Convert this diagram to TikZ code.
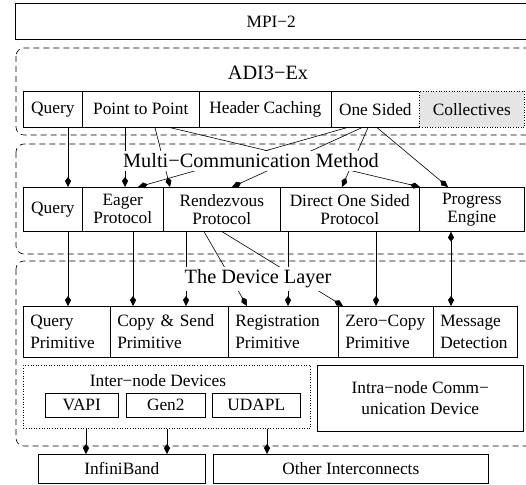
\documentclass[tikz,border=0pt]{standalone}
\usepackage{fontspec}
\setmainfont{Liberation Serif}
\usetikzlibrary{arrows.meta}

\tikzset{
  cell/.style={draw, inner sep=0pt, anchor=north west, align=center,
    font=\fontsize{17.3}{18}\selectfont},
  devcell/.style={draw, inner xsep=7pt, inner ysep=0pt, anchor=north west,
    align=left, text width=#1, minimum height=51,
    font=\fontsize{17.3}{21.5}\selectfont},
  region/.style={draw, dash pattern=on 6pt off 4pt, rounded corners=8pt},
  title/.style={fill=white, inner sep=3pt, font=\fontsize{20.3}{22}\selectfont},
  tip/.style={-{Kite[length=10pt,width=6pt,inset=4pt]}},
  bitip/.style={{Kite[length=10pt,width=6pt,inset=4pt]}-{Kite[length=10pt,width=6pt,inset=4pt]}},
}

\begin{document}
\begin{tikzpicture}[x=1pt, y=-1pt, line width=0.6pt]
\useasboundingbox (0,0) rectangle (526,484);

% ===== Layers =====
\draw[region] (16,48) rectangle (540,135);
\draw[region] (16,144) rectangle (540,254);
\draw[region] (16,261) rectangle (540,446);

% ===== MPI-2 =====
\node[cell, minimum width=512, minimum height=36] (mpi) at (15,3) {MPI−2};

% ===== ADI3-Ex row =====
\node[cell, minimum width=59, minimum height=36] (aq) at (23,91) {Query};
\node[cell, minimum width=117, minimum height=36] (aptp) at (82,91) {Point to Point};
\node[cell, minimum width=132, minimum height=36] (ahc) at (199,91) {Header Caching};
\node[cell, minimum width=88, minimum height=36] (aos) at (331,91) {One Sided};
\node[cell, dotted, fill=gray!20, minimum width=105, minimum height=36] (acoll) at (419,91) {Collectives};

% ===== Multi-Communication Method row =====
\node[cell, minimum width=59, minimum height=44] (mq) at (23,187) {Query};
\node[cell, minimum width=81, minimum height=44] (meager) at (82,187) {Eager\\Protocol};
\node[cell, minimum width=117, minimum height=44] (mrdv) at (163,187) {Rendezvous\\Protocol};
\node[cell, minimum width=139, minimum height=44] (mdos) at (280,187) {Direct One Sided\\Protocol};
\node[cell, minimum width=105, minimum height=44] (mpe) at (419,187) {Progress\\Engine};

% ===== Device layer row =====
\node[devcell=73] (dq) at (23,306) {Query\\Primitive};
\node[devcell=104] (dcs) at (110,306) {Copy \& Send\\Primitive};
\node[devcell=96] (dreg) at (228,306) {Registration\\Primitive};
\node[devcell=81] (dzc) at (338,306) {Zero−Copy\\Primitive};
\node[devcell=70] (dmd) at (433,306) {Message\\Detection};

% ===== Devices =====
\node[draw, dotted, anchor=north west, inner sep=0pt, minimum width=287, minimum height=63] (inter) at (23,365) {};
\node[font=\fontsize{17.3}{18}\selectfont] (interlbl) at (158,381) {Inter−node Devices};
\node[cell, minimum width=73, minimum height=24] (vapi) at (45,393) {VAPI};
\node[cell, minimum width=79, minimum height=24] (gen) at (126,393) {Gen2};
\node[cell, minimum width=88, minimum height=24] (udapl) at (212,393) {UDAPL};
\node[cell, minimum width=206, minimum height=66, font=\fontsize{17.3}{21}\selectfont] (intra) at (317,365) {Intra−node Comm−\\unication Device};

% ===== Interconnects =====
\node[cell, minimum width=167, minimum height=29] (ib) at (38,454) {InfiniBand};
\node[cell, minimum width=275, minimum height=29] (other) at (213,454) {Other Interconnects};

% ===== ADI3-Ex -> Multi-Communication =====
\draw[tip] ([xshift=45]aq.south west) -- ([xshift=45]mq.north west);
\draw[tip] ([xshift=43]aptp.south west) -- ([xshift=43]meager.north west);
\draw[tip] ([xshift=73]aptp.south west) -- ([xshift=7]mrdv.north west);
\draw[tip] ([xshift=88]aptp.south west) -- ([xshift=1]mpe.north west);
\draw[tip] ([xshift=16]aos.south west) -- ([xshift=56]meager.north west);
\draw[tip] ([xshift=31]aos.south west) -- ([xshift=69]mrdv.north west);
\draw[tip] ([xshift=37]aos.south west) -- ([xshift=62]mdos.north west);
\draw[tip] ([xshift=46]aos.south west) -- ([xshift=29]mpe.north west);

% ===== Multi-Communication -> Device layer =====
\draw[tip] ([xshift=45]mq.south west) -- ([xshift=45]dq.north west);
\draw[tip] ([xshift=51]meager.south west) -- ([xshift=23]dcs.north west);
\draw[tip] ([xshift=23]mrdv.south west) -- ([xshift=76]dcs.north west);
\draw[tip] ([xshift=41]mrdv.south west) -- ([xshift=19]dreg.north west);
\draw[tip] ([xshift=59]mrdv.south west) -- ([xshift=5]dzc.north west);
\draw[tip] ([xshift=8]mdos.south west) -- ([xshift=60]dreg.north west);
\draw[tip] ([xshift=96]mdos.south west) -- ([xshift=38]dzc.north west);
\draw[bitip] ([xshift=32]mpe.south west) -- ([xshift=18]dmd.north west);

% ===== Devices -> Interconnects =====
\draw[tip] ([xshift=63]inter.south west) -- ([xshift=48]ib.north west);
\draw[tip] ([xshift=144]inter.south west) -- ([xshift=129]ib.north west);
\draw[tip] ([xshift=244]inter.south west) -- ([xshift=54]other.north west);

% ===== Layer titles =====
\node[title] (adit) at (268,73) {ADI3−Ex};
\node[title] (mcmt) at (251,161) {Multi−Communication Method};
\node[title] (devt) at (258,279) {The Device Layer};

\end{tikzpicture}
\end{document}
